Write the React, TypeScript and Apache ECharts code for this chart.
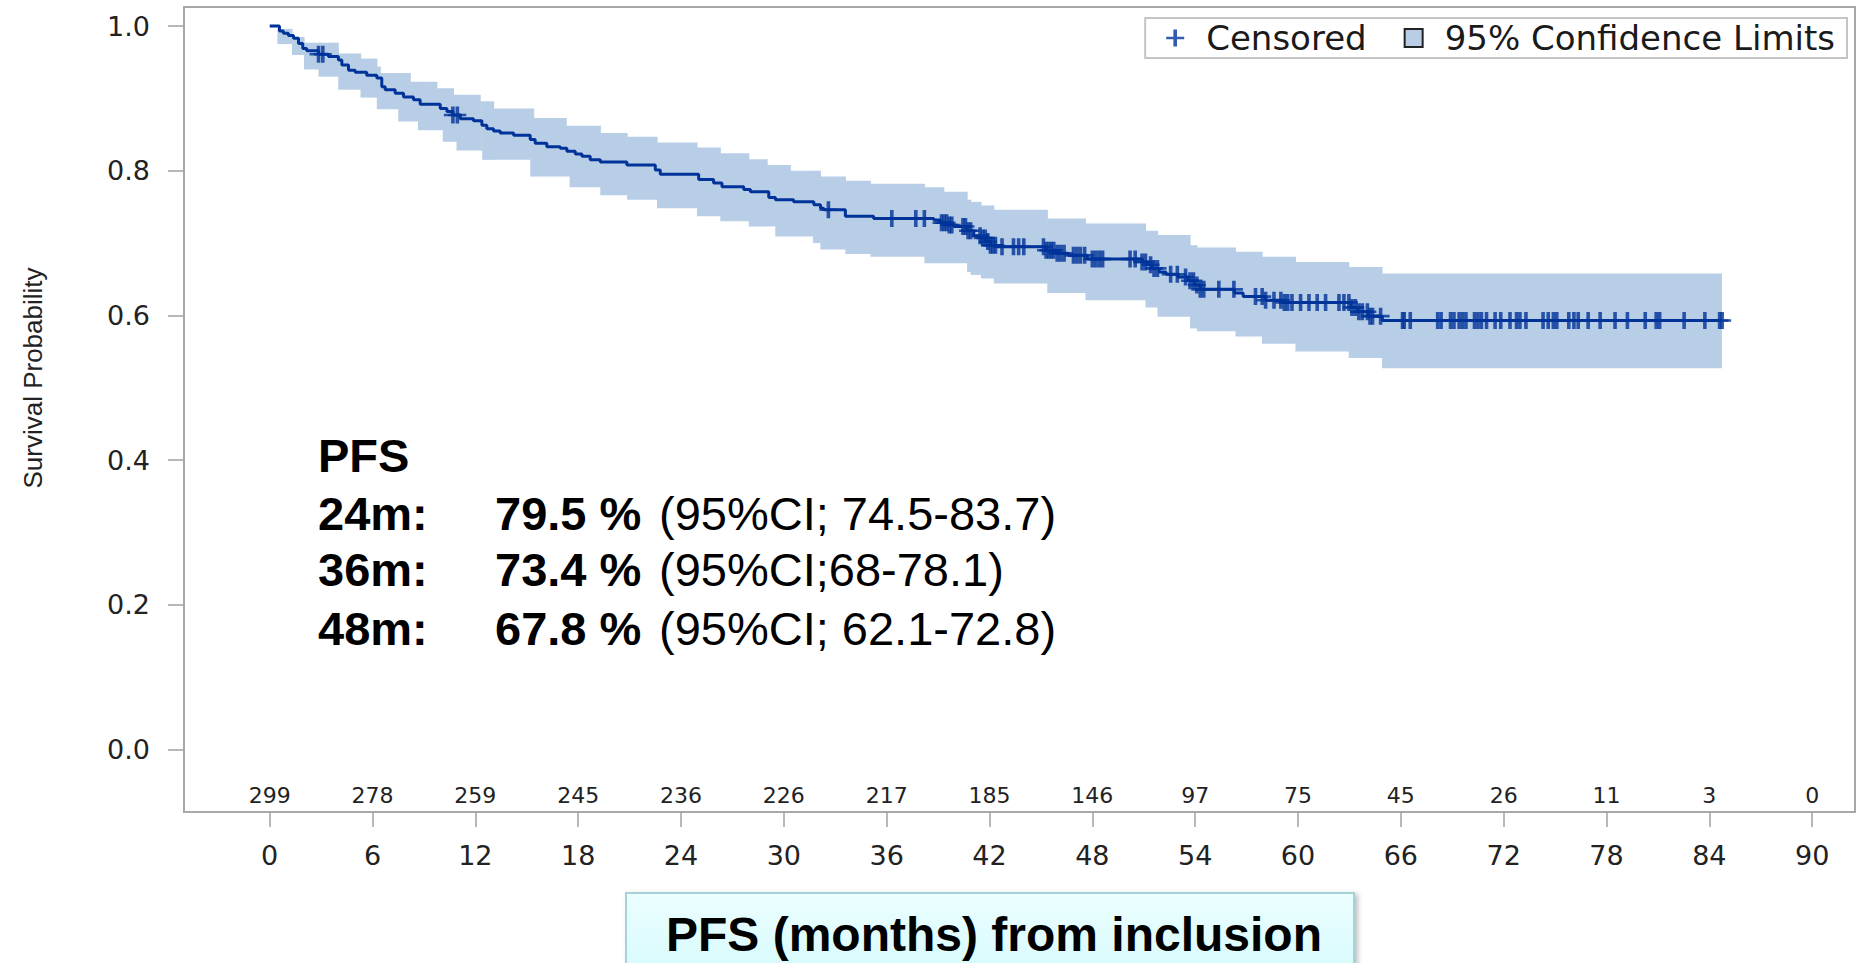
import React, { useEffect, useRef } from "react";
import * as echarts from "echarts";

// Kaplan-Meier step knots: survival value holds from each time onward
const kmTime = [0, 0.57, 0.8, 1.09, 1.39, 1.68, 1.93, 2.16, 2.85, 3.43, 4.01, 4.21, 4.6, 4.99, 5.66, 6.25, 6.54, 6.74, 7.32, 7.81, 8.39, 8.78, 9.95, 10.34, 10.69, 11.12, 11.89, 12.38, 12.67, 13.06, 13.45, 14.23, 15.2, 15.49, 16.17, 16.95, 17.34, 17.83, 18.22, 18.7, 19.29, 20.84, 22.5, 22.79, 25.03, 25.9, 26.39, 27.66, 28.05, 29.12, 29.51, 30.57, 31.75, 32.14, 32.33, 33.59, 35.24, 38.75, 39.13, 39.53, 39.92, 40.69, 41.08, 41.47, 41.76, 42.05, 42.44, 45.3, 45.9, 46.6, 47.7, 50.9, 51.2, 51.5, 51.9, 52.3, 53.0, 53.6, 53.95, 54.3, 56.3, 56.8, 58.1, 59.1, 63.1, 63.5, 64.1, 64.92, 84.75];
const kmSurv = [1.0, 0.993, 0.99, 0.987, 0.983, 0.976, 0.969, 0.966, 0.961, 0.958, 0.953, 0.946, 0.939, 0.936, 0.932, 0.928, 0.916, 0.912, 0.907, 0.902, 0.898, 0.892, 0.886, 0.882, 0.877, 0.872, 0.869, 0.863, 0.858, 0.855, 0.852, 0.849, 0.843, 0.838, 0.833, 0.831, 0.827, 0.823, 0.82, 0.815, 0.812, 0.808, 0.801, 0.795, 0.788, 0.783, 0.778, 0.774, 0.771, 0.763, 0.76, 0.757, 0.753, 0.748, 0.746, 0.737, 0.734, 0.732, 0.728, 0.725, 0.723, 0.717, 0.71, 0.707, 0.702, 0.697, 0.695, 0.69, 0.686, 0.683, 0.678, 0.674, 0.67, 0.665, 0.66, 0.657, 0.653, 0.648, 0.642, 0.636, 0.631, 0.626, 0.621, 0.618, 0.611, 0.605, 0.599, 0.593, 0.593];

// 95% confidence band step knots
const ciTime = [0, 0.45, 1.3, 2.0, 2.85, 4.0, 5.3, 6.25, 6.45, 7.5, 8.2, 8.65, 9.75, 10.1, 10.72, 10.9, 12.28, 12.4, 13.06, 15.2, 15.4, 17.3, 17.5, 19.29, 20.85, 22.6, 24.93, 26.29, 27.95, 29.02, 29.5, 30.38, 31.7, 32.13, 33.59, 35.05, 38.2, 39.33, 40.69, 40.9, 41.5, 42.25, 45.37, 47.6, 51.1, 51.8, 53.7, 54.1, 56.35, 57.9, 59.85, 62.96, 64.9, 84.7];
const ciLower = [1.0, 0.975, 0.96, 0.94, 0.93, 0.912, 0.901, 0.885, 0.885, 0.868, 0.868, 0.856, 0.856, 0.84, 0.84, 0.828, 0.828, 0.815, 0.815, 0.792, 0.792, 0.792, 0.777, 0.766, 0.76, 0.748, 0.737, 0.73, 0.723, 0.723, 0.709, 0.709, 0.7, 0.691, 0.685, 0.681, 0.672, 0.672, 0.66, 0.656, 0.651, 0.644, 0.631, 0.621, 0.611, 0.598, 0.582, 0.578, 0.571, 0.561, 0.55, 0.541, 0.527, 0.527];
const ciUpper = [1.0, 0.996, 0.985, 0.977, 0.977, 0.962, 0.955, 0.944, 0.935, 0.935, 0.923, 0.923, 0.914, 0.914, 0.905, 0.905, 0.896, 0.896, 0.886, 0.886, 0.873, 0.862, 0.862, 0.852, 0.847, 0.839, 0.832, 0.824, 0.816, 0.808, 0.808, 0.8, 0.8, 0.792, 0.786, 0.782, 0.777, 0.771, 0.76, 0.757, 0.752, 0.746, 0.734, 0.727, 0.717, 0.711, 0.697, 0.694, 0.688, 0.681, 0.674, 0.667, 0.658, 0.658];

// Censoring times (months)
const censorTimes = [2.85, 3.1, 10.69, 10.95, 32.6, 36.3, 37.7, 38.2, 39.2, 39.35, 39.5, 39.65, 39.8, 40.45, 40.6, 40.75, 40.9, 41.45, 41.6, 41.75, 41.9, 42.05, 42.2, 42.35, 42.73, 43.4, 43.7, 44.0, 45.15, 45.3, 45.45, 45.6, 45.75, 45.95, 46.15, 46.35, 46.9, 47.1, 47.3, 47.55, 48.0, 48.2, 48.4, 48.6, 50.2, 50.5, 50.9, 51.1, 51.4, 51.6, 51.8, 52.57, 52.96, 53.44, 53.7, 53.9, 54.1, 54.3, 54.5, 55.38, 56.26, 57.52, 57.91, 58.11, 58.6, 59.0, 59.2, 59.4, 59.65, 60.15, 60.64, 61.12, 61.61, 62.39, 62.68, 62.97, 63.15, 63.35, 63.55, 63.75, 64.05, 64.2, 64.35, 64.82, 66.1, 66.2, 66.55, 68.15, 68.35, 68.9, 69.1, 69.4, 69.6, 69.8, 70.3, 70.5, 70.7, 71.0, 71.5, 71.83, 72.37, 72.75, 72.95, 73.3, 74.3, 74.6, 74.9, 75.1, 75.8, 76.1, 76.35, 76.93, 77.63, 78.5, 79.22, 80.26, 80.9, 81.1, 82.53, 83.74, 84.6, 84.75];

const xTicks = [0, 6, 12, 18, 24, 30, 36, 42, 48, 54, 60, 66, 72, 78, 84, 90];
const atRisk = [299, 278, 259, 245, 236, 226, 217, 185, 146, 97, 75, 45, 26, 11, 3, 0];
const yTicks = [0, 0.2, 0.4, 0.6, 0.8, 1.0];

const pfsHeader = "PFS";
const pfsLabels = ["24m:", "36m:", "48m:"];
const pfsEstimates = ["79.5 %", "73.4 %", "67.8 %"];
const pfsIntervals = ["(95%CI; 74.5-83.7)", "(95%CI;68-78.1)", "(95%CI; 62.1-72.8)"];
const xTitle = "PFS (months) from inclusion";
const yTitle = "Survival Probability";

const LINE = "#003399";
const BAND = "#b8cee6";
const FRAME = "#a9a9a9";
const SAS_FONT = "DejaVu Sans";
const OVER_FONT = "'Liberation Sans', Arial, sans-serif";
const PLUS = "path://M7.2,0H10.8V17H7.2Z M0,7.2H18V9.8H0Z";

function survAt(t: number): number {
  let s = kmSurv[0];
  for (let i = 0; i < kmTime.length; i++) {
    if (kmTime[i] <= t) s = kmSurv[i];
  }
  return s;
}

export default function App() {
  const ref = useRef<HTMLDivElement>(null);

  useEffect(() => {
    if (!ref.current) return;
    const chart = echarts.init(ref.current, undefined, { renderer: "svg" });
    const rowY = [513, 569, 628];
    const txt = (text: string, x: number, y: number, bold: boolean, size = 47, align = "left") => ({
      type: "text",
      x,
      y,
      z: 100,
      style: { text, fontFamily: OVER_FONT, fontWeight: bold ? "bold" : "normal", fontSize: size, fill: "#000", align, verticalAlign: "middle" },
    });
    const graphic: any[] = [
      {
        type: "text",
        x: 33,
        y: 378,
        z: 100,
        rotation: Math.PI / 2,
        style: { text: yTitle, fontFamily: OVER_FONT, fontSize: 26, fill: "#222", align: "center", verticalAlign: "middle" },
      },
      txt(pfsHeader, 318, 455, true),
    ];
    pfsLabels.forEach((lab, i) => {
      graphic.push(txt(lab, 318, rowY[i], true));
      graphic.push(txt(pfsEstimates[i], 495, rowY[i], true));
      graphic.push(txt(pfsIntervals[i], 659, rowY[i], false));
    });
    graphic.push({
      type: "rect",
      z: 90,
      shape: { x: 626, y: 893, width: 728, height: 100 },
      style: {
        fill: new echarts.graphic.LinearGradient(0, 0, 0, 1, [
          { offset: 0, color: "#ecfeff" },
          { offset: 1, color: "#d2fafc" },
        ]),
        stroke: "#a6d3d8",
        lineWidth: 2,
        shadowBlur: 5,
        shadowColor: "rgba(0,0,0,0.25)",
        shadowOffsetX: 3,
        shadowOffsetY: 2,
      },
    });
    graphic.push(txt(xTitle, 994, 934, true, 48, "center"));

    const option: any = {
      animation: false,
      backgroundColor: "#ffffff",
      grid: { left: 184, right: 7, top: 7, bottom: 151, show: true, borderColor: FRAME, borderWidth: 2, containLabel: false },
      xAxis: [
        {
          type: "value",
          min: -5,
          max: 92.5,
          axisLine: { show: true, onZero: false, lineStyle: { color: FRAME, width: 2 } },
          axisTick: { show: true, length: 15, customValues: xTicks, lineStyle: { color: "#a0a0a0", width: 1.5 } },
          axisLabel: { customValues: xTicks, margin: 30, fontFamily: SAS_FONT, fontSize: 27, color: "#222", formatter: (v: number) => String(v) },
          splitLine: { show: false },
        },
        {
          type: "value",
          position: "top",
          offset: -805,
          min: -5,
          max: 92.5,
          axisLine: { show: false, onZero: false },
          axisTick: { show: false },
          splitLine: { show: false },
          axisLabel: {
            customValues: xTicks,
            margin: 6,
            fontFamily: SAS_FONT,
            fontSize: 22,
            color: "#222",
            formatter: (v: number) => String(atRisk[Math.round(v / 6)]),
          },
        },
      ],
      yAxis: {
        type: "value",
        min: -0.0864,
        max: 1.0263,
        axisLine: { show: true, onZero: false, lineStyle: { color: FRAME, width: 2 } },
        axisTick: { show: true, length: 16, customValues: yTicks, lineStyle: { color: "#a0a0a0", width: 1.5 } },
        axisLabel: { customValues: yTicks, margin: 34, fontFamily: SAS_FONT, fontSize: 27, color: "#222", formatter: (v: number) => v.toFixed(1) },
        splitLine: { show: false },
      },
      legend: {
        right: 15,
        top: 18,
        orient: "horizontal",
        selectedMode: false,
        itemWidth: 18,
        itemHeight: 18,
        itemGap: 37,
        padding: [3, 12, 3, 21],
        borderColor: "#c4c4c4",
        borderWidth: 2,
        backgroundColor: "#ffffff",
        textStyle: { fontFamily: SAS_FONT, fontSize: 34, color: "#1a1a1a", padding: [0, 0, 0, 17] },
        data: [
          { name: "Censored", icon: PLUS, itemStyle: { color: LINE, borderWidth: 0 } },
          { name: "95% Confidence Limits", icon: "rect", itemStyle: { color: BAND, borderColor: "#222", borderWidth: 2 } },
        ],
      },
      series: [
        {
          name: "95% Confidence Limits",
          type: "custom",
          silent: true,
          z: 1,
          itemStyle: { color: BAND },
          encode: { x: [0, 1], y: [2, 3] },
          data: ciTime.slice(0, -1).map((t, i) => [t, ciTime[i + 1], ciLower[i], ciUpper[i]]),
          renderItem: (params: any, api: any) => {
            const pTop = api.coord([api.value(0), api.value(3)]);
            const pBot = api.coord([api.value(1), api.value(2)]);
            return {
              type: "rect",
              shape: { x: pTop[0], y: pTop[1], width: pBot[0] - pTop[0] + 0.6, height: pBot[1] - pTop[1] },
              style: { fill: BAND },
            };
          },
        },
        {
          name: "PFS",
          type: "line",
          step: "end",
          symbol: "none",
          silent: true,
          lineStyle: { color: LINE, width: 3 },
          data: kmTime.map((t, i) => [t, kmSurv[i]]),
          z: 3,
        },
        {
          name: "Censored",
          type: "scatter",
          symbol: PLUS,
          symbolSize: [18, 17],
          silent: true,
          itemStyle: { color: LINE },
          data: censorTimes.map((t) => [t, survAt(t)]),
          z: 4,
        },
      ],
      graphic,
    };
    chart.setOption(option);
    return () => chart.dispose();
  }, []);

  return (
    <div
      ref={ref}
      style={{ position: "fixed", left: 0, top: 0, width: 1862, height: 963, background: "#fff" }}
    />
  );
}
